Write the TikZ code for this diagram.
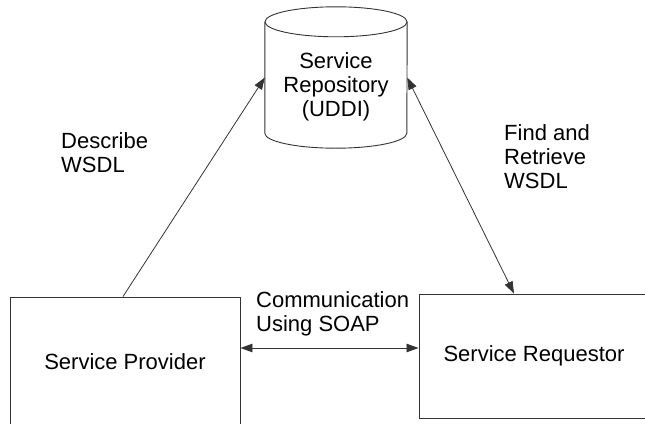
\documentclass[tikz,border=0pt]{standalone}
\usepackage{fontspec}
\setmainfont{Liberation Sans}
\usepackage{tikz}
\usetikzlibrary{arrows.meta,positioning,shapes.geometric}
\definecolor{WsLine}{HTML}{333333}
\tikzset{
  party/.style={draw=WsLine, line width=0.9pt, minimum width=230pt, align=center},
  registry/.style={minimum width=142pt, minimum height=111pt, align=center, inner sep=0pt},
  drum/.style={draw=WsLine, line width=0.9pt},
  wire/.style={-{Triangle[length=12pt, width=8.5pt]}, line width=0.8pt, draw=WsLine},
  bothwire/.style={wire, {Triangle[length=12pt, width=8.5pt]}-{Triangle[length=12pt, width=8.5pt]}},
  labeltext/.style={align=left, anchor=west, inner sep=0pt}
}

\begin{document}
\begin{tikzpicture}[x=1pt, y=-1pt, font=\fontsize{22}{24}\selectfont]
  \useasboundingbox (0,0) rectangle (645,423);
  \clip (0,0) rectangle (645,423);
  \node[registry] (repo) at (336,77.5)
    {\raisebox{-10pt}[\height][\depth]{\begin{tabular}{@{}c@{}}Service\\Repository\\(UDDI)\end{tabular}}};
  % repository drum
  \draw[drum] (repo.north) ellipse[x radius=71pt, y radius=15pt];
  \draw[drum] (repo.north west) -- (repo.south west)
    arc[start angle=180, end angle=360, x radius=71pt, y radius=15pt] -- (repo.north east);
  \node[party, minimum height=130pt] (provider) at (125,362) {Service Provider};
  \node[party, minimum height=124pt] (requestor) at (534,356) {Service Requestor};
  \node[labeltext] (describe) at (61,153) {Describe\\WSDL};
  \node[labeltext] (find) at (504,157) {Find and\\Retrieve\\WSDL};
  \node[labeltext] (soap) at (256,314) {Communication\\Using SOAP};
  \draw[wire] ([xshift=-2pt]provider.north) -- (repo.west);
  \draw[bothwire] (repo.east) -- ([xshift=-20pt]requestor.north);
  \draw[bothwire] ([yshift=14pt]provider.east) -- ([yshift=8pt]requestor.west);
\end{tikzpicture}
\end{document}
